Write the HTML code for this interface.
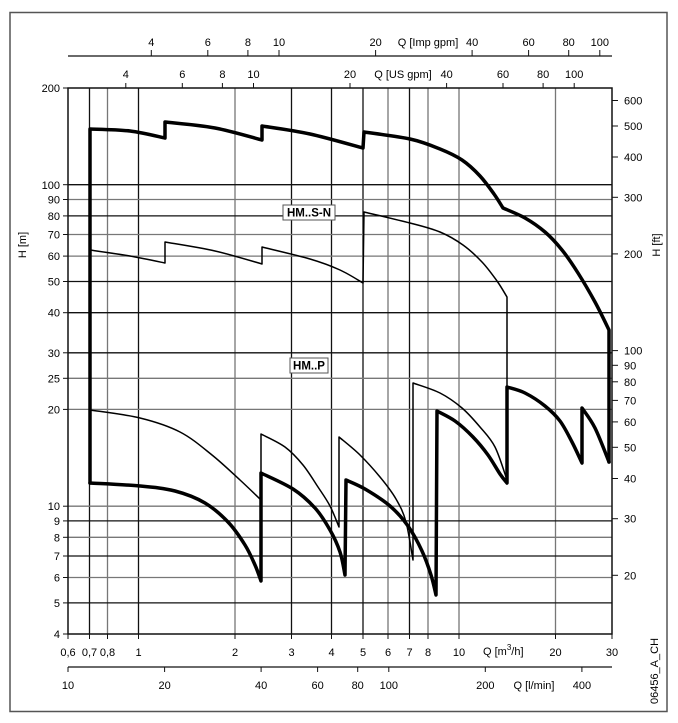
<!DOCTYPE html>
<html><head><meta charset="utf-8"><style>
html,body{margin:0;padding:0;background:#fff}
svg{display:block}
text{font-family:"Liberation Sans",Arial,sans-serif;font-size:11px;fill:#000}
</style></head><body>
<svg id="s" width="678" height="723" viewBox="0 0 678 723" xmlns="http://www.w3.org/2000/svg">
<rect x="10" y="12.5" width="657" height="699" fill="none" stroke="#555" stroke-width="1.5"/>
<g stroke-width="1.3">
<line x1="89.5" y1="88" x2="89.5" y2="634" stroke="#111"/>
<line x1="107.5" y1="88" x2="107.5" y2="634" stroke="#777"/>
<line x1="138.5" y1="88" x2="138.5" y2="634" stroke="#111"/>
<line x1="235" y1="88" x2="235" y2="634" stroke="#777"/>
<line x1="291.5" y1="88" x2="291.5" y2="634" stroke="#111"/>
<line x1="331.5" y1="88" x2="331.5" y2="634" stroke="#111"/>
<line x1="363" y1="88" x2="363" y2="634" stroke="#111"/>
<line x1="388" y1="88" x2="388" y2="634" stroke="#777"/>
<line x1="409.5" y1="88" x2="409.5" y2="634" stroke="#111"/>
<line x1="428" y1="88" x2="428" y2="634" stroke="#777"/>
<line x1="459" y1="88" x2="459" y2="634" stroke="#777"/>
<line x1="555.5" y1="88" x2="555.5" y2="634" stroke="#777"/>
</g>
<g stroke-width="1.3">
<line x1="68" y1="184.7" x2="612" y2="184.7" stroke="#111"/>
<line x1="68" y1="199.5" x2="612" y2="199.5" stroke="#777"/>
<line x1="68" y1="215.9" x2="612" y2="215.9" stroke="#111"/>
<line x1="68" y1="234.5" x2="612" y2="234.5" stroke="#777"/>
<line x1="68" y1="256.1" x2="612" y2="256.1" stroke="#777"/>
<line x1="68" y1="281.5" x2="612" y2="281.5" stroke="#111"/>
<line x1="68" y1="312.7" x2="612" y2="312.7" stroke="#111"/>
<line x1="68" y1="352.8" x2="612" y2="352.8" stroke="#111"/>
<line x1="68" y1="378.3" x2="612" y2="378.3" stroke="#777"/>
<line x1="68" y1="409.4" x2="612" y2="409.4" stroke="#777"/>
<line x1="68" y1="506.2" x2="612" y2="506.2" stroke="#777"/>
<line x1="68" y1="520.9" x2="612" y2="520.9" stroke="#111"/>
<line x1="68" y1="537.3" x2="612" y2="537.3" stroke="#777"/>
<line x1="68" y1="556" x2="612" y2="556" stroke="#111"/>
<line x1="68" y1="577.5" x2="612" y2="577.5" stroke="#777"/>
<line x1="68" y1="602.9" x2="612" y2="602.9" stroke="#111"/>
</g>
<rect x="68" y="88" width="544" height="546" fill="none" stroke="#111" stroke-width="1.5"/>
<g stroke="#111" stroke-width="1">
<line x1="63" y1="88" x2="68" y2="88"/><line x1="63" y1="184.7" x2="68" y2="184.7"/><line x1="63" y1="199.5" x2="68" y2="199.5"/><line x1="63" y1="215.9" x2="68" y2="215.9"/><line x1="63" y1="234.5" x2="68" y2="234.5"/><line x1="63" y1="256.1" x2="68" y2="256.1"/><line x1="63" y1="281.5" x2="68" y2="281.5"/><line x1="63" y1="312.7" x2="68" y2="312.7"/><line x1="63" y1="352.8" x2="68" y2="352.8"/><line x1="63" y1="378.3" x2="68" y2="378.3"/><line x1="63" y1="409.4" x2="68" y2="409.4"/><line x1="63" y1="506.2" x2="68" y2="506.2"/><line x1="63" y1="520.9" x2="68" y2="520.9"/><line x1="63" y1="537.3" x2="68" y2="537.3"/><line x1="63" y1="556" x2="68" y2="556"/><line x1="63" y1="577.5" x2="68" y2="577.5"/><line x1="63" y1="602.9" x2="68" y2="602.9"/><line x1="63" y1="634" x2="68" y2="634"/>
</g>
<g text-anchor="end">
<text x="60" y="92">200</text><text x="60" y="189">100</text><text x="60" y="203.5">90</text><text x="60" y="220">80</text><text x="60" y="238.5">70</text><text x="60" y="260">60</text><text x="60" y="285.5">50</text><text x="60" y="316.7">40</text><text x="60" y="356.8">30</text><text x="60" y="382.3">25</text><text x="60" y="413.4">20</text><text x="60" y="510.2">10</text><text x="60" y="524.9">9</text><text x="60" y="541.3">8</text><text x="60" y="560">7</text><text x="60" y="581.5">6</text><text x="60" y="606.9">5</text><text x="60" y="638">4</text>
</g>
<text transform="translate(26,245) rotate(-90)" text-anchor="middle">H [m]</text>
<g stroke="#111" stroke-width="1">
<line x1="612" y1="100.5" x2="618" y2="100.5"/><line x1="612" y1="126" x2="618" y2="126"/><line x1="612" y1="157" x2="618" y2="157"/><line x1="612" y1="197.3" x2="618" y2="197.3"/><line x1="612" y1="253.9" x2="618" y2="253.9"/><line x1="612" y1="350.6" x2="618" y2="350.6"/><line x1="612" y1="365.3" x2="618" y2="365.3"/><line x1="612" y1="381.8" x2="618" y2="381.8"/><line x1="612" y1="400.4" x2="618" y2="400.4"/><line x1="612" y1="421.9" x2="618" y2="421.9"/><line x1="612" y1="447.3" x2="618" y2="447.3"/><line x1="612" y1="478.5" x2="618" y2="478.5"/><line x1="612" y1="518.7" x2="618" y2="518.7"/><line x1="612" y1="575.3" x2="618" y2="575.3"/>
</g>
<g>
<text x="624" y="104.5">600</text><text x="624" y="130">500</text><text x="624" y="161">400</text><text x="624" y="201.3">300</text><text x="624" y="257.9">200</text><text x="624" y="354.6">100</text><text x="624" y="369.3">90</text><text x="624" y="385.8">80</text><text x="624" y="404.4">70</text><text x="624" y="425.9">60</text><text x="624" y="451.3">50</text><text x="624" y="482.5">40</text><text x="624" y="522.7">30</text><text x="624" y="579.3">20</text>
</g>
<text transform="translate(660,245) rotate(-90)" text-anchor="middle">H [ft]</text>
<g stroke="#111" stroke-width="1">
<line x1="68" y1="634" x2="68" y2="639"/><line x1="89.5" y1="634" x2="89.5" y2="639"/><line x1="107.5" y1="634" x2="107.5" y2="639"/><line x1="138.5" y1="634" x2="138.5" y2="639"/><line x1="235" y1="634" x2="235" y2="639"/><line x1="291.5" y1="634" x2="291.5" y2="639"/><line x1="331.5" y1="634" x2="331.5" y2="639"/><line x1="363" y1="634" x2="363" y2="639"/><line x1="388" y1="634" x2="388" y2="639"/><line x1="409.5" y1="634" x2="409.5" y2="639"/><line x1="428" y1="634" x2="428" y2="639"/><line x1="459" y1="634" x2="459" y2="639"/><line x1="555.5" y1="634" x2="555.5" y2="639"/><line x1="612" y1="634" x2="612" y2="639"/>
</g>
<g text-anchor="middle">
<text x="68" y="656">0,6</text><text x="89.5" y="656">0,7</text><text x="107.5" y="656">0,8</text><text x="138.5" y="656">1</text><text x="235" y="656">2</text><text x="291.5" y="656">3</text><text x="331.5" y="656">4</text><text x="363" y="656">5</text><text x="388" y="656">6</text><text x="409.5" y="656">7</text><text x="428" y="656">8</text><text x="459" y="656">10</text><text x="555.5" y="656">20</text><text x="612" y="656">30</text>
</g>
<text x="483" y="655">Q [m<tspan font-size="8" dy="-5">3</tspan><tspan dy="5">/h]</tspan></text>
<line x1="68" y1="667" x2="612" y2="667" stroke="#111" stroke-width="1.3"/>
<g stroke="#111" stroke-width="1">
<line x1="68" y1="667" x2="68" y2="672"/><line x1="164.6" y1="667" x2="164.6" y2="672"/><line x1="261.1" y1="667" x2="261.1" y2="672"/><line x1="317.6" y1="667" x2="317.6" y2="672"/><line x1="357.7" y1="667" x2="357.7" y2="672"/><line x1="388.8" y1="667" x2="388.8" y2="672"/><line x1="485.3" y1="667" x2="485.3" y2="672"/><line x1="581.9" y1="667" x2="581.9" y2="672"/>
</g>
<g text-anchor="middle">
<text x="68" y="689">10</text><text x="164.6" y="689">20</text><text x="261.1" y="689">40</text><text x="317.6" y="689">60</text><text x="357.7" y="689">80</text><text x="388.8" y="689">100</text><text x="485.3" y="689">200</text><text x="581.9" y="689">400</text>
<text x="534" y="689">Q [l/min]</text>
</g>
<text transform="translate(658,671) rotate(-90)" text-anchor="middle">06456_A_CH</text>
<line x1="68" y1="56" x2="612" y2="56" stroke="#111" stroke-width="1.3"/>
<g stroke="#111" stroke-width="1">
<line x1="151.3" y1="50" x2="151.3" y2="56"/><line x1="207.8" y1="50" x2="207.8" y2="56"/><line x1="247.9" y1="50" x2="247.9" y2="56"/><line x1="279" y1="50" x2="279" y2="56"/><line x1="375.6" y1="50" x2="375.6" y2="56"/><line x1="472.1" y1="50" x2="472.1" y2="56"/><line x1="528.6" y1="50" x2="528.6" y2="56"/><line x1="568.7" y1="50" x2="568.7" y2="56"/><line x1="599.8" y1="50" x2="599.8" y2="56"/>
</g>
<g text-anchor="middle">
<text x="151.3" y="46">4</text><text x="207.8" y="46">6</text><text x="247.9" y="46">8</text><text x="279" y="46">10</text><text x="375.6" y="46">20</text><text x="472.1" y="46">40</text><text x="528.6" y="46">60</text><text x="568.7" y="46">80</text><text x="599.8" y="46">100</text>
<text x="428" y="46">Q [Imp gpm]</text>
</g>
<g stroke="#111" stroke-width="1">
<line x1="125.8" y1="83" x2="125.8" y2="88"/><line x1="182.3" y1="83" x2="182.3" y2="88"/><line x1="222.4" y1="83" x2="222.4" y2="88"/><line x1="253.5" y1="83" x2="253.5" y2="88"/><line x1="350" y1="83" x2="350" y2="88"/><line x1="446.6" y1="83" x2="446.6" y2="88"/><line x1="503" y1="83" x2="503" y2="88"/><line x1="543.1" y1="83" x2="543.1" y2="88"/><line x1="574.2" y1="83" x2="574.2" y2="88"/>
</g>
<g text-anchor="middle">
<text x="125.8" y="78">4</text><text x="182.3" y="78">6</text><text x="222.4" y="78">8</text><text x="253.5" y="78">10</text><text x="350" y="78">20</text><text x="446.6" y="78">40</text><text x="503" y="78">60</text><text x="543.1" y="78">80</text><text x="574.2" y="78">100</text>
<text x="403" y="78">Q [US gpm]</text>
</g>
<g id="curves" fill="none" stroke="#000" stroke-linejoin="round" stroke-linecap="round">
<polyline stroke-width="3.5" points="90,483 90,129 130,131 165,138 165,122 215,128 262,140 262,126 310,134 363,148 364,132 410,140 435,147 460,158 475,170 490,190 503,208 520,216 537,226 550,237 565,254 578,275 595,303 609,330 609,462"/>
<polyline stroke-width="1.5" points="90,250 165,263 165,242 215,251 262,264 262,247 310,260 340,270 363,283 364,212 410,223 450,237 465,246 477,257 488,267 497,280 507,297 507,483"/>
<polyline stroke-width="3.5" points="90,483 140,486 165,489 187,495 205,505 220,517 235,530 247,547 261,581 261,473 293,490 312,506 327,527 337,548 345,575 346,480 360,487 390,507 405,521 417,540 427,563 436,595 437,411 455,421 473,437 493,467 507,483 507,387 525,394 540,403 555,417 567,437 582,463 582,408 595,428 609,462"/>
<polyline stroke-width="1.5" points="90,410 140,418 187,437 205,450 220,467 242,483 261,500 261,434 280,444 293,453 308,470 320,490 339,527 339,437 360,457 373,470 388,487 400,507 408,530 413,560 413,383 440,393 460,405 473,420 488,437 500,457 507,480"/>
</g>
<rect x="283" y="205" width="52" height="15" fill="#fff" stroke="#555" stroke-width="1"/>
<text x="309" y="216.5" text-anchor="middle" font-weight="bold" style="font-size:11.5px">HM..S-N</text>
<rect x="290" y="358" width="38" height="15" fill="#fff" stroke="#555" stroke-width="1"/>
<text x="309" y="369.5" text-anchor="middle" font-weight="bold" style="font-size:11.5px">HM..P</text>
</svg>
<script>
(function(){
var NS="http://www.w3.org/2000/svg";
// each curve: width, list of smooth segments (joined by straight lines)
var C=[
[3.5,[[[90,483],[90,129]],[[90,129],[130,131],[165,138]],[[165,122],[215,128],[262,140]],[[262,126],[310,134],[363,148]],[[364,132],[410,139],[440,149],[462,160],[480,176],[494,194],[503,208]],[[503,208],[525,218],[545,232],[562,250],[578,273],[595,302],[609,330]],[[609,330],[609,462]]]],
[1.5,[[[90,250],[130,256],[165,263]],[[165,242],[215,251],[262,264]],[[262,247],[310,259],[340,270],[363,283]],[[364,212],[410,223],[440,232],[463,245],[482,262],[497,281],[507,297]],[[507,297],[507,483]]]],
[3.5,[[[90,483],[140,486],[175,491],[205,503],[228,522],[245,545],[255,565],[261,581]],[[261,473],[293,489],[315,508],[330,530],[340,552],[345,575]],[[346,480],[365,489],[390,506],[408,526],[422,551],[431,575],[436,595]],[[437,411],[455,421],[473,437],[488,455],[500,474],[507,483]],[[507,387],[525,393],[545,406],[560,421],[572,442],[582,463]],[[582,408],[595,428],[609,462]]]],
[1.5,[[[90,410],[140,418],[180,432],[212,455],[240,480],[261,500]],[[261,434],[285,447],[303,465],[318,487],[330,506],[339,527]],[[339,437],[360,455],[380,477],[396,499],[406,522],[413,560]],[[413,383],[440,393],[462,408],[480,427],[495,447],[507,480]]]]
];
function cr(p){
 var d="";
 for(var i=0;i<p.length-1;i++){
  var p0=p[i>0?i-1:0],p1=p[i],p2=p[i+1],p3=p[i+2<p.length?i+2:i+1];
  var c1x=p1[0]+(p2[0]-p0[0])/6,c1y=p1[1]+(p2[1]-p0[1])/6;
  var c2x=p2[0]-(p3[0]-p1[0])/6,c2y=p2[1]-(p3[1]-p1[1])/6;
  d+=" C"+c1x.toFixed(1)+","+c1y.toFixed(1)+" "+c2x.toFixed(1)+","+c2y.toFixed(1)+" "+p2[0]+","+p2[1];
 }
 return d;
}
var g=document.getElementById("curves");
while(g.firstChild)g.removeChild(g.firstChild);
C.forEach(function(c){
 var d="";
 c[1].forEach(function(seg,k){
  d+=(k==0?"M":" L")+seg[0][0]+","+seg[0][1]+cr(seg);
 });
 var p=document.createElementNS(NS,"path");
 p.setAttribute("d",d);p.setAttribute("stroke-width",c[0]);
 g.appendChild(p);
});
})();
</script>
</body></html>
